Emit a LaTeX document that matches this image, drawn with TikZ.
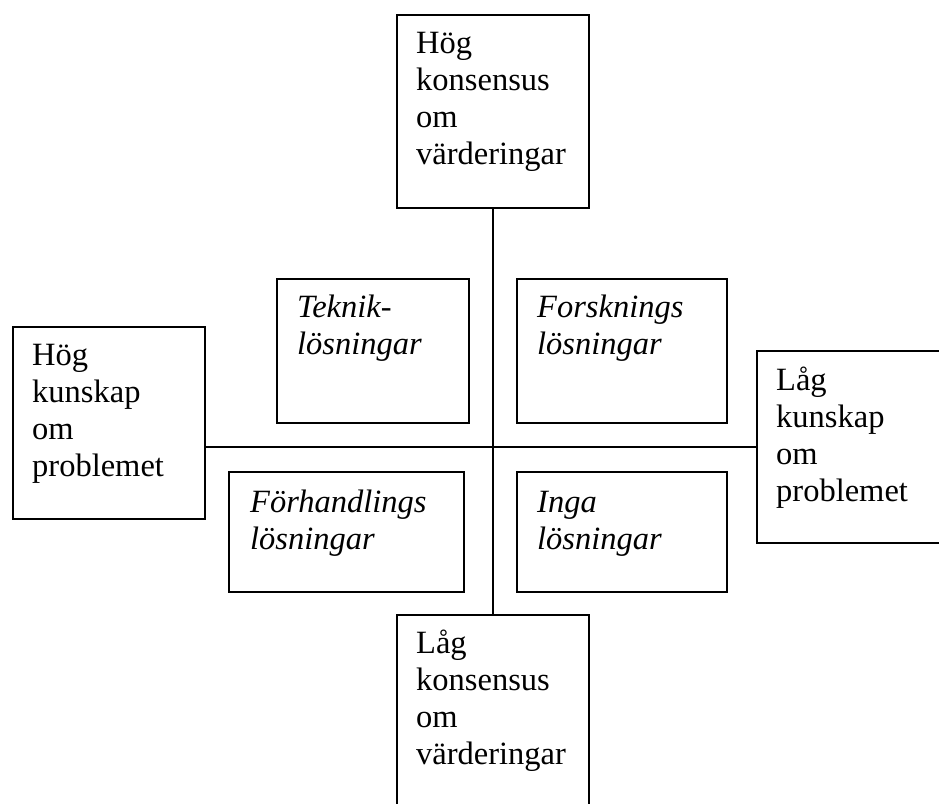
\documentclass[tikz,border=0pt]{standalone}
\usepackage{fontspec}
\setmainfont{Liberation Serif}
\begin{document}
\begin{tikzpicture}[x=1pt,y=-1pt,
  box/.style={draw=black, line width=2pt, rectangle, inner sep=0pt, anchor=north west},
  txt/.style={anchor=base west, inner sep=0pt, font=\fontsize{32.5}{37.3}\selectfont},
  itxt/.style={txt, font=\fontsize{32.5}{37.3}\selectfont\itshape},
  link/.style={draw=black, line width=2pt}]
\clip (0,0) rectangle (939,803);
\fill[white] (0,0) rectangle (939,803);
% outer boxes
\node[box, minimum width=192pt, minimum height=193pt] (top) at (396,14) {};
\node[box, minimum width=192pt, minimum height=193pt] (bot) at (396,614) {};
\node[box, minimum width=192pt, minimum height=192pt] (left) at (12,326) {};
\node[box, minimum width=192pt, minimum height=192pt] (right) at (756,350) {};
% inner boxes
\node[box, minimum width=192pt, minimum height=144pt] (tek) at (276,278) {};
\node[box, minimum width=210pt, minimum height=144pt] (fors) at (516,278) {};
\node[box, minimum width=235pt, minimum height=120pt] (forh) at (228,471) {};
\node[box, minimum width=210pt, minimum height=120pt] (inga) at (516,471) {};
% connectors
\draw[link] (top.south) -- (top.south |- bot.north);
\draw[link] (left.east |- right.west) -- (right.west);
% texts
\node[txt] (ttop) at ([shift={(20,39)}]top.north west) {\parbox[t]{180pt}{\raggedright Hög\\konsensus\\om\\värderingar}};
\node[txt] (tbot) at ([shift={(20,39)}]bot.north west) {\parbox[t]{180pt}{\raggedright Låg\\konsensus\\om\\värderingar}};
\node[txt] (tleft) at ([shift={(20,39)}]left.north west) {\parbox[t]{180pt}{\raggedright Hög\\kunskap\\om\\problemet}};
\node[txt] (tright) at ([shift={(20,40)}]right.north west) {\parbox[t]{180pt}{\raggedright Låg\\kunskap\\om\\problemet}};
\node[itxt] (ttek) at ([shift={(21,39)}]tek.north west) {\parbox[t]{180pt}{\raggedright Teknik-\\lösningar}};
\node[itxt] (tfors) at ([shift={(21,39)}]fors.north west) {\parbox[t]{200pt}{\raggedright Forsknings\\lösningar}};
\node[itxt] (tforh) at ([shift={(22,41)}]forh.north west) {\parbox[t]{220pt}{\raggedright Förhandlings\\lösningar}};
\node[itxt] (tinga) at ([shift={(21,41)}]inga.north west) {\parbox[t]{200pt}{\raggedright Inga\\lösningar}};
\end{tikzpicture}
\end{document}
